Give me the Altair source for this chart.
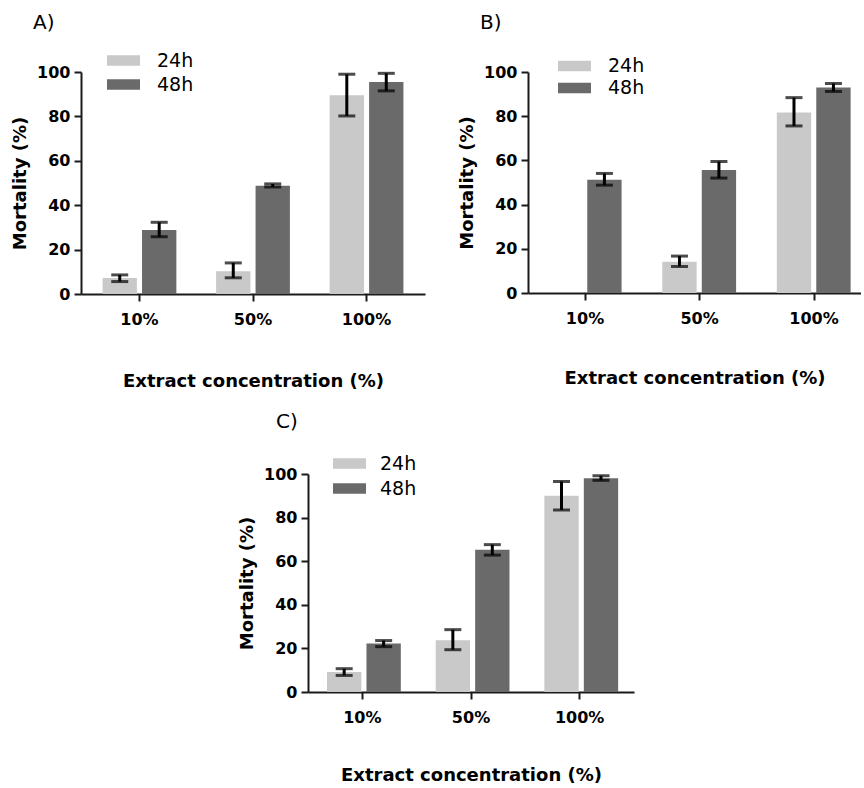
import altair as alt
import pandas as pd

categories = ["10%", "50%", "100%"]
series = ["24h", "48h"]
colors = ["#c9c9c9", "#6a6a6a"]

# Panel A
a_24 = [7.2, 10.2, 89.5]
a_24_lo = [5.6, 7.3, 80.2]
a_24_hi = [8.6, 14.0, 99.0]
a_48 = [28.8, 48.8, 95.5]
a_48_lo = [25.8, 48.2, 91.5]
a_48_hi = [32.3, 49.6, 99.4]

# Panel B
b_24 = [0.0, 14.1, 81.7]
b_24_lo = [None, 12.0, 75.6]
b_24_hi = [None, 16.7, 88.4]
b_48 = [51.2, 55.7, 93.0]
b_48_lo = [48.8, 52.0, 91.2]
b_48_hi = [54.1, 59.5, 94.8]

# Panel C
c_24 = [9.2, 23.7, 90.0]
c_24_lo = [7.6, 19.4, 83.5]
c_24_hi = [10.7, 28.6, 96.6]
c_48 = [22.2, 65.2, 98.0]
c_48_lo = [20.8, 62.8, 97.1]
c_48_hi = [23.6, 67.6, 99.2]

FONT = "DejaVu Sans"


def make_df(v24, lo24, hi24, v48, lo48, hi48):
    rows = []
    for i, c in enumerate(categories):
        rows.append(dict(conc=c, series=series[0], value=v24[i], lo=lo24[i], hi=hi24[i]))
        rows.append(dict(conc=c, series=series[1], value=v48[i], lo=lo48[i], hi=hi48[i]))
    return pd.DataFrame(rows)


def panel(df, label, width, height, title_dx, title_off, legend_x, legend_y,
          clip_h, label_off, x_scale, x_title_pad):
    base = alt.Chart(df)
    x = alt.X("conc:N", sort=categories, scale=x_scale,
              axis=alt.Axis(title="Extract concentration (%)", labelAngle=0,
                            labelPadding=10, titlePadding=x_title_pad))
    xo = alt.XOffset("series:N", sort=series,
                     scale=alt.Scale(paddingInner=0.13, paddingOuter=0))
    yaxis = alt.Axis(values=[0, 20, 40, 60, 80, 100], title="Mortality (%)",
                     labelPadding=4, titlePadding=7)
    yscale = alt.Scale(domain=[0, 100], nice=False)
    bars = base.mark_bar().encode(
        x=x, xOffset=xo,
        y=alt.Y("value:Q", scale=yscale, axis=yaxis),
        color=alt.Color(
            "series:N",
            scale=alt.Scale(domain=series, range=colors),
            legend=alt.Legend(
                orient="none", legendX=legend_x, legendY=legend_y, title=None,
                direction="vertical",
                symbolType="M-1,-0.32H1V0.32H-1Z", symbolSize=1089,
                symbolStrokeWidth=0, symbolOpacity=1,
                labelFont=FONT, labelFontSize=19, labelFontWeight="normal",
                labelColor="black", labelOffset=label_off,
                clipHeight=clip_h, rowPadding=0, padding=0,
            ),
        ),
    )
    eb = base.transform_filter("isValid(datum.lo)")
    rule = eb.mark_rule(strokeWidth=3, color="black").encode(
        x=x, xOffset=xo,
        y=alt.Y("lo:Q", scale=yscale, axis=yaxis), y2="hi:Q")
    cap_lo = eb.mark_tick(size=17, thickness=3, color="black").encode(
        x=x, xOffset=xo, y=alt.Y("lo:Q", scale=yscale, axis=yaxis))
    cap_hi = eb.mark_tick(size=17, thickness=3, color="black").encode(
        x=x, xOffset=xo, y=alt.Y("hi:Q", scale=yscale, axis=yaxis))
    return alt.layer(bars, rule, cap_lo, cap_hi).properties(
        width=width, height=height,
        title=alt.TitleParams(label, anchor="start", frame="group", dx=title_dx,
                              offset=title_off,
                              font=FONT, fontSize=20, fontWeight="normal",
                              color="black"),
    )


df_a = make_df(a_24, a_24_lo, a_24_hi, a_48, a_48_lo, a_48_hi)
df_b = make_df(b_24, b_24_lo, b_24_hi, b_48, b_48_lo, b_48_hi)
df_c = make_df(c_24, c_24_lo, c_24_hi, c_48, c_48_lo, c_48_hi)

pA = panel(df_a, "A)", 344, 222, -48, 16, 26, -23.5, 24, 17,
           alt.Scale(paddingInner=0.35, paddingOuter=0.19), 45)
pB = panel(df_b, "B)", 333, 221, -48, 22, 30, -17, 22, 17,
           alt.Scale(paddingInner=0.35, paddingOuter=0.129, align=0.67), 43)
pC = panel(df_c, "C)", 326, 218, -32, 19, 25, -23, 25, 14,
           alt.Scale(paddingInner=0.35, paddingOuter=0.175), 41)

top = alt.hconcat(pA, pB, spacing=33).resolve_scale(
    color="independent", x="independent", y="independent"
).resolve_legend(color="independent")

chart = alt.vconcat(top, pC, spacing=22, center=True).resolve_scale(
    color="independent", x="independent", y="independent"
).resolve_legend(color="independent").properties(
    padding={"left": 11, "top": 12, "right": 0, "bottom": 0}
).configure_view(stroke=None).configure_axis(
    grid=False,
    domainColor="#1a1a1a", domainWidth=2,
    tickColor="#1a1a1a", tickWidth=2, tickSize=7,
    labelFont=FONT, labelFontSize=16, labelFontWeight="bold", labelColor="black",
    titleFont=FONT, titleFontSize=18, titleFontWeight="bold", titleColor="black",
)

chart.save("out.html", embed_options={"renderer": "svg", "actions": False})
